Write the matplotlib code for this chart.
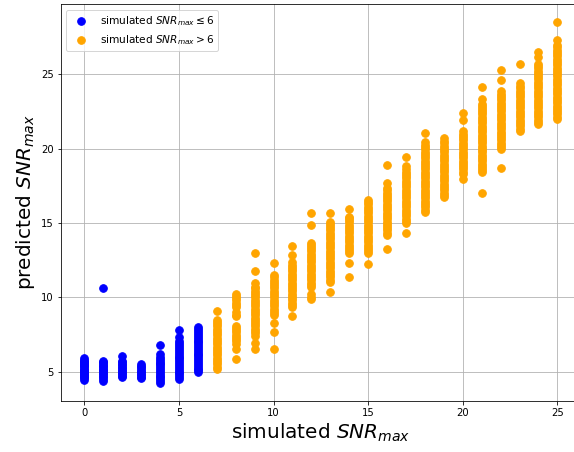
import numpy as np
import matplotlib
matplotlib.use("Agg")
import matplotlib.pyplot as plt

# predicted SNR_max for each simulated SNR_max value (0..25)
p00 = [4.45, 4.55, 4.62, 4.7, 4.78, 4.85, 4.93, 5.0, 5.08, 5.15, 5.22, 5.3, 5.38, 5.45, 5.52, 5.6, 5.68, 5.75, 5.82, 5.9]
p01 = [4.38, 4.5, 4.62, 4.75, 4.85, 4.95, 5.05, 5.12, 5.2, 5.3, 5.4, 5.48, 5.56, 5.64, 5.72, 10.6]
p02 = [4.65, 4.75, 4.85, 4.95, 5.05, 5.15, 5.25, 5.35, 5.45, 5.55, 5.65, 5.75, 6.08]
p03 = [4.57, 4.68, 4.78, 4.88, 4.98, 5.08, 5.18, 5.3, 5.42, 5.52]
p04 = [4.26, 4.38, 4.5, 4.62, 4.75, 4.88, 5.0, 5.12, 5.25, 5.38, 5.5, 5.62, 5.75, 5.88, 6.0, 6.17, 6.8]
p05 = [4.53, 4.65, 4.78, 4.9, 5.02, 5.15, 5.28, 5.4, 5.52, 5.65, 5.78, 5.9, 6.02, 6.15, 6.28, 6.4, 6.55, 6.68,
       6.82, 6.95, 7.07, 7.36, 7.78]
p06 = [4.98, 5.1, 5.22, 5.35, 5.48, 5.6, 5.72, 5.85, 5.98, 6.1, 6.22, 6.35, 6.48, 6.6, 6.72, 6.85, 6.98, 7.1,
       7.22, 7.35, 7.48, 7.6, 7.72, 7.85, 7.99]
p07 = [5.2, 5.35, 5.5, 5.65, 5.8, 5.95, 6.1, 6.25, 6.4, 6.55, 6.7, 6.85, 7.0, 7.15, 7.3, 7.45, 7.6, 7.75, 7.9,
       8.05, 8.2, 8.35, 8.5, 9.08]
p08 = [5.83, 6.5, 6.84, 7.05, 7.2, 7.35, 7.5, 7.65, 7.8, 7.95, 8.1, 8.72, 8.85, 9.0, 9.35, 9.5, 9.65, 9.8, 9.95,
       10.1, 10.25]
p09 = [6.55, 6.93, 7.44, 7.6, 7.75, 7.9, 8.05, 8.2, 8.35, 8.5, 8.65, 8.8, 8.95, 9.1, 9.25, 9.4, 9.55, 9.7, 9.85,
       10.0, 10.15, 10.3, 10.45, 10.6, 10.7, 11.0, 11.8, 12.98]
p10 = [6.5, 7.69, 8.25, 8.79, 8.95, 9.1, 9.25, 9.4, 9.55, 9.7, 9.85, 10.0, 10.15, 10.3, 10.45, 10.6, 10.75, 10.9,
       11.05, 11.2, 11.35, 11.48, 12.33]
p11 = [8.74, 9.35, 9.5, 9.65, 9.8, 9.95, 10.1, 10.25, 10.4, 10.55, 10.7, 10.85, 11.0, 11.15, 11.3, 11.45, 11.6,
       11.75, 11.9, 12.05, 12.2, 12.38, 12.87, 13.43]
p12 = [9.9, 10.05, 10.25, 10.7, 10.85, 11.0, 11.15, 11.3, 11.45, 11.6, 11.75, 11.9, 12.05, 12.2, 12.35, 12.5,
       12.65, 12.8, 12.95, 13.1, 13.25, 13.4, 13.55, 13.68, 14.84, 15.67]
p13 = [10.36, 11.03, 11.2, 11.35, 11.5, 11.65, 11.8, 11.95, 12.1, 12.25, 12.4, 12.55, 12.7, 12.85, 13.0, 13.15,
       13.3, 13.45, 13.6, 13.75, 13.9, 14.05, 14.2, 14.35, 14.5, 14.65, 14.8, 14.95, 15.07, 15.67]
p14 = [11.39, 12.28, 12.96, 13.1, 13.25, 13.4, 13.55, 13.7, 13.85, 14.0, 14.15, 14.3, 14.45, 14.6, 14.75, 14.9,
       15.05, 15.2, 15.32, 15.43, 15.94]
p15 = [12.22, 12.96, 13.1, 13.25, 13.4, 13.55, 13.7, 13.85, 14.0, 14.15, 14.3, 14.45, 14.6, 14.75, 14.9, 15.05,
       15.2, 15.35, 15.5, 15.65, 15.8, 15.95, 16.1, 16.25, 16.4, 16.55]
p16 = [13.25, 14.19, 14.35, 14.5, 14.65, 14.8, 14.95, 15.1, 15.25, 15.4, 15.55, 15.7, 15.85, 16.0, 16.15, 16.3,
       16.45, 16.6, 16.75, 16.9, 17.05, 17.2, 17.33, 17.72, 18.9]
p17 = [14.35, 14.98, 15.15, 15.3, 15.45, 15.6, 15.75, 15.9, 16.05, 16.2, 16.35, 16.5, 16.65, 16.8, 16.95, 17.1,
       17.25, 17.4, 17.55, 17.7, 17.85, 18.0, 18.15, 18.3, 18.45, 18.6, 18.84, 19.47]
p18 = [15.76, 15.9, 16.05, 16.2, 16.35, 16.5, 16.65, 16.8, 16.95, 17.1, 17.25, 17.4, 17.55, 17.7, 17.85, 18.0,
       18.15, 18.3, 18.45, 18.6, 18.75, 18.9, 19.05, 19.2, 19.35, 19.5, 19.65, 19.8, 19.95, 20.1, 20.25, 20.48, 21.08]
p19 = [16.77, 16.9, 17.05, 17.2, 17.35, 17.5, 17.65, 17.8, 17.95, 18.1, 18.25, 18.4, 18.55, 18.7, 18.85, 19.0,
       19.15, 19.3, 19.45, 19.6, 19.75, 19.9, 20.05, 20.2, 20.35, 20.5, 20.7]
p20 = [17.95, 18.3, 18.45, 18.6, 18.75, 18.9, 19.05, 19.2, 19.35, 19.5, 19.65, 19.8, 19.95, 20.1, 20.25, 20.4,
       20.55, 20.7, 20.85, 21.0, 21.2, 21.9, 22.41]
p21 = [17.05, 18.4, 18.55, 18.7, 18.85, 19.0, 19.15, 19.3, 19.45, 19.6, 19.75, 19.9, 20.05, 20.2, 20.35, 20.5,
       20.65, 20.8, 20.95, 21.1, 21.25, 21.4, 21.55, 21.7, 21.85, 22.0, 22.15, 22.3, 22.45, 22.6, 22.75, 22.9,
       23.0, 23.36, 24.14]
p22 = [18.67, 19.98, 20.1, 20.25, 20.4, 20.55, 20.7, 20.85, 21.0, 21.15, 21.3, 21.45, 21.6, 21.75, 21.9, 22.05,
       22.2, 22.35, 22.5, 22.65, 22.8, 22.95, 23.1, 23.25, 23.4, 23.55, 23.7, 23.9, 24.6, 25.27]
p23 = [21.2, 21.35, 21.5, 21.65, 21.8, 21.95, 22.1, 22.25, 22.4, 22.55, 22.7, 22.85, 23.0, 23.15, 23.3, 23.45,
       23.6, 23.75, 23.9, 24.05, 24.2, 24.41, 25.67]
p24 = [21.67, 21.8, 21.95, 22.1, 22.25, 22.4, 22.55, 22.7, 22.85, 23.0, 23.15, 23.3, 23.45, 23.6, 23.75, 23.9,
       24.05, 24.2, 24.35, 24.5, 24.65, 24.8, 24.95, 25.1, 25.25, 25.4, 25.55, 25.72, 26.17, 26.5]
p25 = [22.0, 22.15, 22.3, 22.45, 22.6, 22.75, 22.9, 23.05, 23.2, 23.35, 23.5, 23.65, 23.8, 23.95, 24.1, 24.25,
       24.4, 24.55, 24.7, 24.85, 25.0, 25.15, 25.3, 25.45, 25.6, 25.75, 25.9, 26.05, 26.2, 26.35, 26.5, 26.65,
       26.8, 26.96, 27.3, 28.54]

columns = [p00, p01, p02, p03, p04, p05, p06, p07, p08, p09, p10, p11, p12, p13, p14, p15, p16, p17, p18, p19,
           p20, p21, p22, p23, p24, p25]
sim_snr = list(range(26))
threshold = 6

sim = np.concatenate([np.full(len(c), s) for s, c in zip(sim_snr, columns)])
pred = np.concatenate(columns)
low = sim <= threshold

fig = plt.figure(figsize=(574 / 72, 452 / 72), dpi=72)
ax = fig.add_axes([0.1057, 0.1139, 0.9065, 0.8765])
ax.scatter(sim[low], pred[low], s=58, c="blue", label=r"simulated $SNR_{max} \leq 6$", zorder=3)
ax.scatter(sim[~low], pred[~low], s=58, c="orange", label=r"simulated $SNR_{max} > 6$", zorder=3)
ax.set_xlim(-1.25, 26.25)
ax.set_ylim(3.07, 29.7)
ax.grid(True)
ax.set_xlabel(r"simulated $SNR_{max}$", fontsize=20)
ax.set_ylabel(r"predicted $SNR_{max}$", fontsize=20)
ax.tick_params(labelsize=10)
ax.legend(loc="upper left", fontsize=10.5)
fig.savefig("out.png", dpi=72)
